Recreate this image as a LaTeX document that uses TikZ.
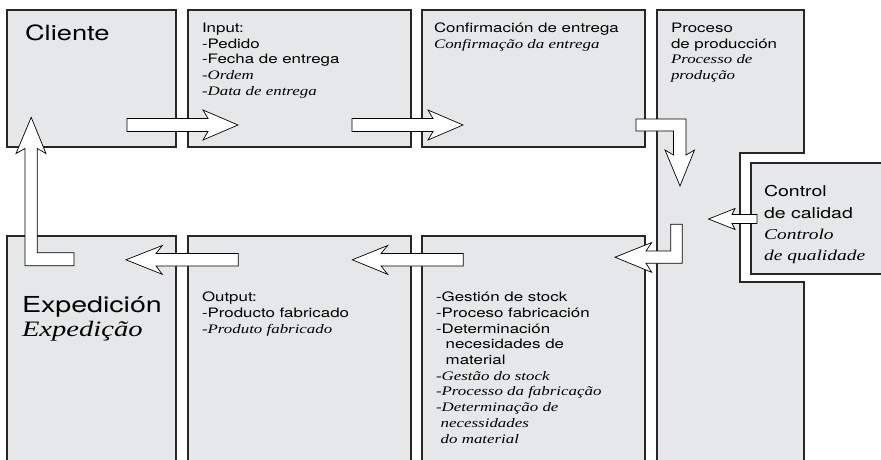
\documentclass[tikz,border=0pt]{standalone}
\usepackage{fontspec}
\newfontfamily\sansf[FakeStretch=1.3]{TeX Gyre Heros}
\newfontfamily\serf[FakeStretch=1.3]{Liberation Serif}
\definecolor{boxfill}{HTML}{E6E7E8}
\definecolor{boxline}{HTML}{2A2627}
\newcommand\ptit[1]{{\serf\itshape #1}}
\newcommand\linesT[1]{\begin{tabular}[t]{@{}l@{}}#1\end{tabular}}
\tikzset{
  panel/.style={fill=boxfill, draw=boxline, line width=1.1pt},
  blockarrow/.style={fill=white, draw=black, line width=0.7pt, line join=miter},
  txt/.style={anchor=base west, inner sep=0pt, outer sep=0pt},
  small/.style={txt, font=\sansf\fontsize{13}{15.7}\selectfont},
}
\begin{document}
\begin{tikzpicture}[x=1pt,y=-1pt]
\useasboundingbox (0,0) rectangle (881,459);
\clip (0,0) rectangle (881,459);
% panels top row
\path[panel] (7,10) rectangle (176,147);
\path[panel] (188,10) rectangle (411,147);
\path[panel] (422,10) rectangle (645,147);
% production panel (with notch)
\path[panel] (657,480) -- (657,10) -- (804,10) -- (804,153) -- (740,153) -- (740,282) -- (804,282) -- (804,480);
% quality control panel
\path[panel] (751,163) rectangle (895,274);
% bottom row
\path[panel] (7,480) -- (7,236) -- (176,236) -- (176,480);
\path[panel] (188,480) -- (188,236) -- (411,236) -- (411,480);
\path[panel] (422,480) -- (422,236) -- (645,236) -- (645,480);

% texts
\node[txt, font=\sansf\fontsize{21}{24}\selectfont] (cliente) at (25,40) {Cliente};
\node[small] (input) at (202,32.3) {\linesT{Input:\\-Pedido\\-Fecha de entrega\\\ptit{-Ordem}\\\ptit{-Data de entrega}}};
\node[small] (conf) at (434,32.3) {\linesT{Confirmación de entrega\\\ptit{Confirmação da entrega}}};
\node[small] (proc) at (671,32.3) {\linesT{Proceso\\de producción\\\ptit{Processo de}\\\ptit{produção}}};
\node[txt, font=\sansf\fontsize{15}{21.3}\selectfont] (ctrl) at (764,196.7) {\linesT{Control\\de calidad\\\ptit{Controlo}\\\ptit{de qualidade}}};
\node[txt, font=\sansf\fontsize{22}{23.3}\selectfont] (exped) at (22,312.7) {\linesT{Expedición\\\ptit{Expedição}}};
\node[small] (output) at (202,301.7) {\linesT{Output:\\-Producto fabricado\\\ptit{-Produto fabricado}}};
\node[small] (stock) at (436,301.7) {\linesT{-Gestión de stock\\-Proceso fabricación\\-Determinación\\\hspace*{9.7pt}necesidades de\\\hspace*{9.7pt}material\\\ptit{-Gestão do stock}\\\ptit{-Processo da fabricação}\\\ptit{-Determinação de}\\\ptit{\hspace*{4.7pt}necessidades}\\\ptit{\hspace*{4.7pt}do material}}};

% block arrows
\path[blockarrow] (127,118.5) -- (208,118.5) -- (203,110) -- (238,125) -- (203,140) -- (208,131.5) -- (127,131.5) -- cycle;
\path[blockarrow] (352,118.5) -- (433,118.5) -- (428,110) -- (463,125) -- (428,140) -- (433,131.5) -- (352,131.5) -- cycle;
\path[blockarrow] (636,119) -- (686,119) -- (686,155) -- (694.5,150) -- (680,186) -- (665,150) -- (673.5,155) -- (673.5,131) -- (636,131) -- cycle;
\path[blockarrow] (757,214.5) -- (732,214.5) -- (735,208.5) -- (708.5,219) -- (735,229.5) -- (732,223.5) -- (757,223.5) -- cycle;
\path[blockarrow] (670.7,224.3) -- (682.3,224.3) -- (682.3,263.3) -- (646,263.3) -- (651.7,272.3) -- (615,257.2) -- (651.7,242.5) -- (646,251) -- (670.7,251) -- cycle;
\path[blockarrow] (463.3,253.5) -- (463.3,266) -- (381,266) -- (387.7,274.3) -- (352.3,259.8) -- (387.7,245.5) -- (381,253.5) -- cycle;
\path[blockarrow] (238.3,253.5) -- (238.3,266) -- (156,266) -- (162.3,274.3) -- (126,259.8) -- (162.3,245.5) -- (156,253.5) -- cycle;
\path[blockarrow] (74,252.7) -- (74,265.7) -- (25,265.7) -- (25,148.5) -- (16,153.5) -- (31.2,117.3) -- (46,153.5) -- (37.3,148.5) -- (37.3,252.7) -- cycle;
\end{tikzpicture}
\end{document}
